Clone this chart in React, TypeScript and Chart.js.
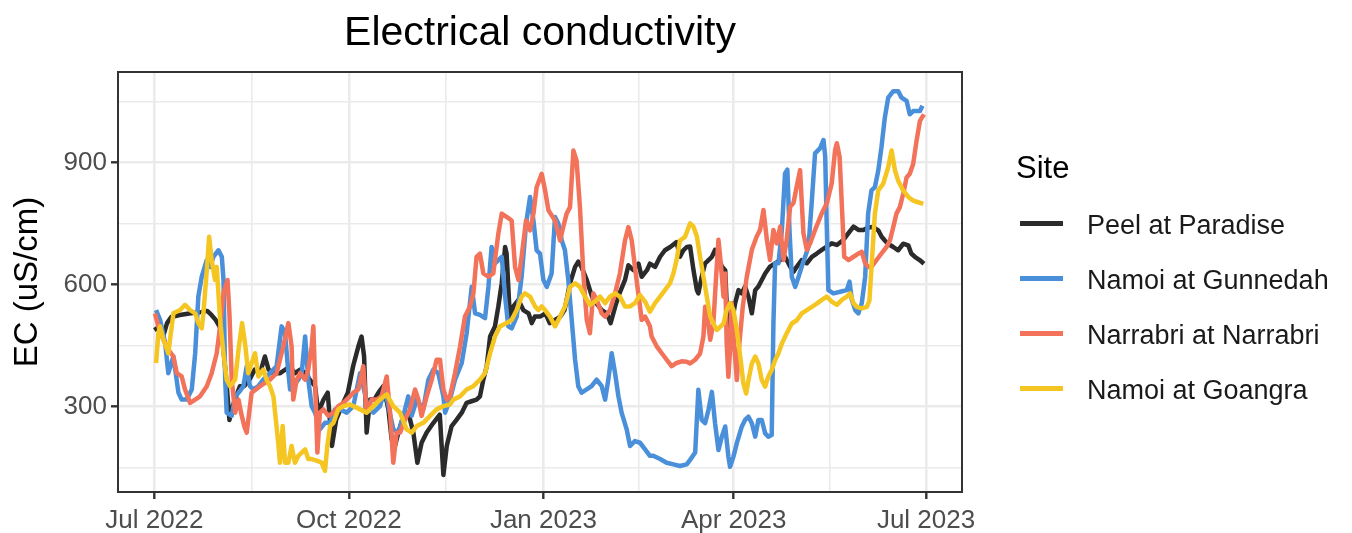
import React, { useEffect, useRef } from "react";
import { Chart, registerables } from "chart.js";

Chart.register(...registerables);

const FONT = "'Liberation Sans', Arial, Helvetica, sans-serif";

// Daily EC readings, as [days since 1 Jul 2022, EC in uS/cm]
const peelAtParadise: [number, number][] = [
  [0, 488], [2, 495], [4, 470], [6, 505], [8, 520], [12, 525], [18, 530], [22, 532], [25, 535], [27, 525],
  [29, 513], [31, 495], [32.5, 450], [34, 366], [35.5, 267], [37, 300], [39, 330], [40.5, 350], [42.5, 350], [45, 366],
  [47.5, 391], [50, 382], [52.3, 423], [54, 391], [56, 382], [59.5, 382], [62, 391], [64, 399], [66.5, 382], [69, 391],
  [71.5, 382], [73.5, 366], [76, 350], [77.5, 285], [80, 317], [82, 334], [84, 203], [86, 268], [88, 293], [90, 317],
  [91.5, 334], [94, 399], [96.5, 448], [98, 472], [99.2, 423], [100.4, 236], [102, 317], [104, 317], [106, 334], [108.3, 350],
  [110.7, 293], [112.2, 220], [113.8, 203], [115.4, 236], [117.8, 277], [120.1, 285], [122.5, 236], [124.4, 162], [126.4, 211], [128.8, 236],
  [132, 260], [135, 280], [136.7, 132], [138.3, 203], [140.6, 252], [143, 268], [145.4, 285], [147.7, 309], [150, 313], [152.4, 317],
  [154, 325], [155.6, 366], [157.2, 399], [158.8, 472], [161.1, 497], [162.7, 546], [164.3, 603], [165.9, 692], [166.6, 676], [168.2, 513],
  [169.8, 546], [172.2, 562], [174.5, 537], [177, 529], [178.5, 505], [180, 521], [182.4, 521], [185, 529], [187, 505], [189.5, 513],
  [192, 521], [194, 537], [196.6, 603], [199, 643], [200.5, 656], [202, 643], [204.5, 611], [207, 570], [209, 554], [211.6, 537],
  [214, 529], [215.8, 505], [218, 546], [220, 578], [222.6, 611], [224.2, 647], [226.6, 635], [229, 651], [230.5, 619], [233, 635],
  [234.4, 651], [236.8, 643], [239.2, 668], [241.5, 684], [244, 692], [247, 704], [248.6, 668], [250.2, 684], [251.8, 692], [253.4, 693],
  [255, 635], [256.6, 586], [257.3, 578], [258.9, 619], [260.5, 652], [262.1, 660], [263.7, 668], [265.2, 685], [266.8, 668], [268.4, 644],
  [270, 635], [271.1, 504], [272, 439], [273.1, 504], [274.7, 554], [276.3, 586], [277.8, 578], [279.4, 595], [281, 570], [282.6, 529],
  [284.2, 586], [285.7, 595], [287.3, 611], [288.9, 627], [291.2, 644], [293.6, 652], [296, 660], [298.3, 668], [300.7, 644], [302.3, 631],
  [303.9, 644], [306.2, 660], [308.6, 652], [311, 668], [313.3, 676], [315.7, 685], [318, 693], [320.4, 701], [322.8, 697], [326, 710],
  [328.3, 726], [330.7, 742], [333, 734], [335.4, 734], [337.6, 740], [340, 741], [342.4, 733], [344, 717], [345.5, 708], [347, 700],
  [349.5, 692], [351.8, 684], [354.2, 700], [356.6, 696], [358, 676], [359.7, 668], [362, 660], [364, 651],
];

const namoiAtGunnedah: [number, number][] = [
  [0.8, 537], [2.7, 513], [5.1, 456], [6.6, 382], [9, 423], [11.4, 334], [12.9, 317], [15.3, 317], [17.7, 342], [19.3, 431],
  [20.8, 570], [22.4, 619], [24.8, 660], [26.4, 643], [27.9, 668], [30.3, 684], [31.9, 668], [32.7, 611], [33.5, 366], [34.2, 285],
  [36.6, 277], [38.2, 325], [40.5, 338], [42.1, 350], [43.7, 399], [45.2, 350], [46.8, 342], [49.2, 350], [51.5, 366], [54.7, 382],
  [57.8, 399], [60.2, 497], [61.8, 480], [63.4, 382], [64.2, 342], [65.7, 350], [68.1, 366], [69.7, 382], [71.3, 472], [72.8, 366],
  [74.4, 301], [76, 285], [78.3, 244], [80.7, 260], [83.1, 260], [85.4, 293], [87.8, 293], [91, 285], [94.1, 301], [97.3, 382],
  [98.8, 350], [101.2, 293], [103.6, 285], [106.7, 301], [109.1, 342], [110.7, 301], [113, 244], [115.4, 236], [117.8, 277], [120.1, 325],
  [121.7, 277], [124.1, 317], [127.2, 293], [129.6, 366], [132, 391], [134.3, 382], [136.7, 325], [137.5, 285], [139.8, 317], [142.2, 366],
  [145.4, 407], [147.7, 480], [150.1, 594], [151.7, 529], [154, 525], [156.4, 517], [158, 594], [159.5, 692], [161.1, 652], [162.7, 660],
  [164.3, 668], [165.9, 570], [167.4, 497], [169, 492], [171.4, 521], [173.7, 619], [175.8, 749], [177.7, 815], [179.3, 757], [180.8, 684],
  [182.4, 676], [184, 611], [185.6, 594], [187.9, 627], [189.5, 766], [191.1, 749], [192.7, 708], [194.2, 684], [195.8, 611], [197.4, 513],
  [199, 415], [200.5, 350], [202.1, 334], [204.5, 342], [206.8, 350], [209.2, 366], [211.6, 350], [213.2, 317], [214.7, 366], [216.3, 431],
  [217.9, 382], [219.5, 325], [221, 285], [223.4, 244], [225, 203], [227.3, 215], [229.7, 211], [232.1, 195], [234.4, 179], [236, 179],
  [239.2, 171], [242.3, 162], [245.5, 158], [248.6, 154], [251.8, 158], [253.4, 169], [255.8, 187], [257.3, 341], [258.9, 267], [260.5, 259],
  [262.1, 292], [263.7, 336], [265.2, 259], [266.8, 193], [268.4, 226], [270, 251], [271.5, 177], [272.3, 152], [273.9, 177], [275.5, 210],
  [277.8, 250], [279.4, 267], [281, 275], [282.6, 259], [284.2, 226], [285.7, 267], [287.3, 267], [288.9, 234], [290.4, 226], [292, 230],
  [292.8, 504], [293.6, 652], [295.2, 652], [296.8, 734], [298.3, 873], [299.4, 882], [300.4, 734], [301.5, 619], [303.1, 594], [304.7, 619],
  [306.2, 644], [307.8, 668], [309.4, 693], [311, 808], [312.5, 922], [314.9, 935], [316.5, 955], [317.3, 914], [318, 750], [318.8, 586],
  [321.2, 578], [324.4, 582], [327.5, 586], [328.8, 607], [329.9, 562], [331.5, 537], [333, 529], [334.6, 554], [336.2, 619], [337.6, 774],
  [339.2, 831], [340.8, 839], [342.4, 880], [343.9, 937], [345.5, 1010], [347.1, 1059], [349.5, 1075], [351.8, 1075], [353.4, 1059], [355.8, 1051],
  [357.3, 1018], [358.9, 1026], [360.5, 1026], [362.1, 1026], [363.3, 1039],
];

const narrabriAtNarrabri: [number, number][] = [
  [0.3, 529], [1.9, 497], [4.3, 464], [6.6, 440], [9, 423], [10.6, 382], [12.9, 374], [14.5, 342], [16.9, 309], [19.3, 317],
  [21.6, 325], [24.8, 350], [27.1, 382], [29.5, 431], [31.1, 497], [32.7, 578], [34.6, 611], [35.5, 529], [36.6, 366], [38.2, 285],
  [39.8, 317], [41, 285], [42.5, 252], [43.7, 236], [46, 334], [50, 350], [54.7, 366], [57.8, 382], [61, 448], [63.4, 505],
  [64.9, 448], [65.7, 317], [67.3, 366], [68.9, 382], [71.3, 366], [72.8, 391], [74.4, 448], [75.2, 497], [76, 366], [77.1, 187],
  [78.3, 285], [79.9, 293], [82.3, 277], [84.7, 285], [87, 301], [89.4, 309], [92.5, 325], [94.1, 334], [96.5, 342], [98.8, 399],
  [100.4, 285], [102.8, 317], [105.1, 317], [107.5, 325], [109.9, 374], [111.5, 285], [113, 162], [114.6, 236], [116.2, 236], [118.6, 268],
  [120.9, 293], [123.3, 342], [124.9, 317], [126.4, 277], [128.8, 325], [131.2, 366], [133.5, 415], [135.1, 415], [136.7, 342], [138.3, 317],
  [139.8, 325], [142.2, 382], [144.6, 448], [146.9, 521], [149.3, 546], [150.9, 578], [152.4, 668], [154, 676], [155.6, 627], [158, 619],
  [160.3, 627], [162.7, 725], [164.3, 774], [166.6, 766], [169, 757], [170.6, 643], [172.2, 611], [173.7, 668], [175.8, 757], [177.7, 733],
  [179.3, 774], [180.8, 839], [183.2, 872], [184.8, 831], [186.4, 782], [189.5, 757], [191.9, 708], [193.4, 741], [195, 774], [196.6, 790],
  [198.2, 929], [199.7, 904], [201.3, 790], [202.9, 627], [204.5, 513], [206, 480], [207.6, 578], [209.2, 562], [211.6, 529], [213.2, 521],
  [215.5, 537], [217.9, 578], [220.2, 627], [222.6, 708], [224.2, 741], [225.8, 708], [227.3, 643], [228.9, 578], [230.5, 513], [232.1, 521],
  [234.4, 497], [235.2, 472], [237.6, 448], [240, 431], [242.3, 415], [244.7, 399], [247, 407], [249.4, 411], [251.8, 410], [253.4, 406],
  [255.8, 415], [258.1, 430], [259.7, 472], [260.5, 545], [261.6, 521], [262.9, 464], [264.4, 505], [265.7, 619], [266.8, 710], [267.9, 652],
  [269.2, 570], [270, 627], [270.7, 455], [271.5, 373], [272.3, 439], [273.1, 554], [274.2, 455], [275.5, 365], [276.7, 455], [278.3, 545],
  [280.2, 619], [282.6, 685], [284.9, 718], [286.5, 734], [288.1, 783], [289.7, 710], [291.2, 660], [292.8, 734], [294.4, 701], [296, 742],
  [297.6, 660], [299.1, 710], [300.7, 791], [302.3, 800], [303.8, 840], [305.4, 881], [307, 726], [308.6, 685], [310.2, 701], [312.5, 734],
  [315.7, 775], [318.1, 800], [320.4, 849], [322, 931], [322.8, 947], [324.1, 914], [325.2, 791], [326.3, 668], [328.3, 660], [330.7, 668],
  [333, 676], [334.6, 680], [336.2, 652], [337.8, 643], [339.2, 643], [341.6, 660], [343.9, 676], [346.3, 692], [347.9, 708], [349.5, 741],
  [351, 774], [352.6, 790], [354.2, 823], [355.8, 863], [357.3, 872], [358.9, 896], [360.5, 953], [362.1, 1002], [364, 1018],
];

const namoiAtGoangra: [number, number][] = [
  [0.8, 407], [1.9, 480], [2.7, 497], [4.3, 464], [6.6, 431], [9, 529], [12.2, 537], [14.5, 550], [16.9, 537], [19.3, 529],
  [20.8, 505], [22.4, 492], [23.2, 529], [24.8, 635], [25.9, 717], [27.1, 660], [28.7, 611], [29.5, 643], [31.1, 513], [32.7, 431],
  [34.2, 366], [35.8, 350], [38.2, 366], [40, 448], [41.5, 505], [43, 450], [44.4, 382], [47.6, 431], [49.2, 374], [51.5, 391],
  [53.1, 366], [54.7, 350], [56.3, 325], [57.1, 285], [58.6, 211], [59.4, 162], [60.7, 252], [61.8, 162], [63.4, 162], [64.9, 203],
  [66.5, 162], [68.1, 179], [69.7, 187], [71.3, 195], [72.8, 171], [74.4, 171], [76.8, 167], [79.1, 162], [80.7, 142], [81.8, 203],
  [83.1, 252], [84.7, 260], [87, 293], [89.4, 301], [92.5, 305], [94.1, 301], [97.3, 293], [100.4, 285], [103.6, 301], [106.7, 317],
  [109.9, 330], [113, 301], [116.2, 285], [119.3, 244], [121.7, 236], [124.1, 252], [127.2, 260], [130.4, 277], [133.5, 293], [136.7, 301],
  [139.8, 305], [141.4, 317], [144.6, 325], [147.7, 342], [150.9, 350], [154, 366], [156.4, 382], [158.8, 431], [161.1, 472], [163.5, 497],
  [166.6, 505], [169, 513], [171.4, 537], [173.7, 570], [175.3, 578], [177.7, 570], [180.1, 546], [181.6, 537], [183.2, 546], [184.8, 537],
  [187.1, 521], [189.5, 497], [191.9, 521], [194.2, 546], [196.6, 594], [199, 603], [201.3, 594], [203.7, 570], [206, 550], [208.4, 558],
  [210.8, 570], [213.2, 554], [215.5, 570], [217.9, 578], [220.2, 570], [222.6, 546], [225, 546], [227.3, 554], [229.7, 574], [232.1, 558],
  [234.4, 533], [236.8, 554], [239.2, 570], [241.5, 586], [243.9, 603], [245.5, 627], [247, 660], [248.6, 708], [251, 717], [253.4, 750],
  [255, 742], [256.6, 718], [258.1, 668], [259.7, 619], [261.3, 570], [262.9, 521], [264.4, 504], [266, 488], [267.6, 496], [269.2, 504],
  [270.7, 537], [272.3, 554], [273.9, 537], [275.5, 488], [277.1, 423], [278.6, 357], [279.9, 332], [281, 365], [282.6, 406], [284.2, 423],
  [285.7, 406], [287.3, 365], [288.9, 349], [290.4, 374], [292, 390], [293.6, 414], [295.2, 431], [296.8, 455], [299.1, 480], [301.5, 504],
  [303.9, 512], [306.2, 529], [308.6, 537], [311, 545], [313.3, 553], [315.7, 562], [318, 570], [320.4, 558], [322.8, 550], [325.2, 562],
  [327.5, 570], [329.1, 578], [330.7, 554], [332.2, 545], [334.6, 541], [337, 545], [338.2, 560], [339.2, 643], [340.8, 774], [342.4, 831],
  [344.7, 847], [347.1, 888], [348.7, 929], [350.3, 880], [351.8, 855], [354.2, 831], [356.6, 815], [358.9, 806], [361.3, 802], [363.7, 798],
];

const siteNames = ["Peel at Paradise", "Namoi at Gunnedah", "Narrabri at Narrabri", "Namoi at Goangra"];
const siteSeries = [peelAtParadise, namoiAtGunnedah, narrabriAtNarrabri, namoiAtGoangra];
const siteColors = ["#2B2B2B", "#4A8FD9", "#F2725A", "#F5C521"];

// Axis breaks (x in days since 1 Jul 2022)
const xMajorDays = [0, 92, 184, 274, 365];
const xMajorLabels = ["Jul 2022", "Oct 2022", "Jan 2023", "Apr 2023", "Jul 2023"];
const xMinorDays = [46, 138, 229, 319.5];
const yMajor = [300, 600, 900];
const yMinor = [150, 450, 750, 1050];

const X_MIN = -17.2;
const X_MAX = 382;
const Y_MIN = 90;
const Y_MAX = 1122;

const GRID = "#EBEBEB";
const INK = "#333333";
const TICK_TEXT = "#4D4D4D";

const panelBorder = {
  id: "panelBorder",
  afterDatasetsDraw(chart: any) {
    const { ctx, chartArea } = chart;
    const { left, top, right, bottom } = chartArea;
    ctx.save();
    ctx.strokeStyle = INK;
    ctx.lineWidth = 2;
    ctx.strokeRect(left, top, right - left, bottom - top);
    ctx.restore();
  },
};

function buildConfig(): any {
  const datasets = siteSeries.map((pts, i) => ({
    label: siteNames[i],
    data: pts.map(([d, v]) => ({ x: d, y: v })),
    borderColor: siteColors[i],
    backgroundColor: siteColors[i],
    borderWidth: 4.5,
    pointRadius: 0,
    pointHoverRadius: 0,
    tension: 0,
    fill: false,
    borderJoinStyle: "round",
    borderCapStyle: "butt",
    order: siteSeries.length - 1 - i,
  }));

  const isXMajor = (v: number) => xMajorDays.includes(v);
  const isYMajor = (v: number) => yMajor.includes(v);

  return {
    type: "line",
    data: { datasets },
    plugins: [panelBorder],
    options: {
      animation: false,
      responsive: false,
      devicePixelRatio: 1,
      events: [],
      layout: { padding: { left: 0, right: 390, top: 72, bottom: 0 } },
      plugins: {
        legend: { display: false },
        title: { display: false },
        tooltip: { enabled: false },
      },
      scales: {
        x: {
          type: "linear",
          min: X_MIN,
          max: X_MAX,
          afterBuildTicks: (s: any) => {
            s.ticks = [...xMajorDays, ...xMinorDays].sort((a, b) => a - b).map((v) => ({ value: v }));
          },
          afterFit: (s: any) => {
            s.height = 41;
          },
          ticks: {
            autoSkip: false,
            maxRotation: 0,
            minRotation: 0,
            padding: 6,
            color: TICK_TEXT,
            font: { family: FONT, size: 26 },
            callback: (v: number) => {
              const i = xMajorDays.indexOf(v);
              return i >= 0 ? xMajorLabels[i] : "";
            },
          },
          grid: {
            color: GRID,
            lineWidth: (c: any) => (c.tick && isXMajor(c.tick.value) ? 2.6 : 1.6),
            tickLength: 7,
            tickWidth: 2.4,
            tickColor: (c: any) => (c.tick && isXMajor(c.tick.value) ? INK : "rgba(0,0,0,0)"),
          },
          border: { display: false },
        },
        y: {
          type: "linear",
          min: Y_MIN,
          max: Y_MAX,
          afterBuildTicks: (s: any) => {
            s.ticks = [...yMajor, ...yMinor].sort((a, b) => a - b).map((v) => ({ value: v }));
          },
          afterFit: (s: any) => {
            s.width = 118;
          },
          ticks: {
            padding: 4,
            color: TICK_TEXT,
            font: { family: FONT, size: 26 },
            callback: (v: number) => (isYMajor(v) ? String(v) : ""),
          },
          grid: {
            color: GRID,
            lineWidth: (c: any) => (c.tick && isYMajor(c.tick.value) ? 2.6 : 1.6),
            tickLength: 7,
            tickWidth: 2.4,
            tickColor: (c: any) => (c.tick && isYMajor(c.tick.value) ? INK : "rgba(0,0,0,0)"),
          },
          border: { display: false },
          title: {
            display: true,
            text: "EC (uS/cm)",
            color: "#000000",
            font: { family: FONT, size: 33 },
            padding: { top: 8, bottom: 0 },
          },
        },
      },
    },
  };
}

export default function App() {
  const canvasRef = useRef<HTMLCanvasElement>(null);

  useEffect(() => {
    if (!canvasRef.current) return;
    Chart.defaults.font.family = FONT;
    const chart = new Chart(canvasRef.current, buildConfig());
    return () => chart.destroy();
  }, []);

  return (
    <div
      style={{
        position: "fixed",
        left: 0,
        top: 0,
        width: 1352,
        height: 533,
        background: "#FFFFFF",
        fontFamily: FONT,
        overflow: "hidden",
      }}
    >
      <canvas
        ref={canvasRef}
        width={1352}
        height={533}
        style={{ position: "absolute", left: 0, top: 0, display: "block" }}
      />
      <div
        style={{
          position: "absolute",
          left: 118,
          width: 844,
          top: 11,
          textAlign: "center",
          fontSize: 41,
          lineHeight: "41px",
          color: "#000000",
          whiteSpace: "nowrap",
        }}
      >
        Electrical conductivity
      </div>
      <div
        style={{
          position: "absolute",
          left: 1016,
          top: 152,
          fontSize: 31,
          lineHeight: "31px",
          color: "#000000",
        }}
      >
        Site
      </div>
      {siteNames.map((name, i) => (
        <React.Fragment key={name}>
          <div
            style={{
              position: "absolute",
              left: 1020,
              top: 223 + 55 * i - 2.5,
              width: 43,
              height: 5,
              background: siteColors[i],
            }}
          />
          <div
            style={{
              position: "absolute",
              left: 1087,
              top: 225 + 55 * i - 13.5,
              fontSize: 27,
              lineHeight: "27px",
              color: "#1A1A1A",
              whiteSpace: "nowrap",
            }}
          >
            {name}
          </div>
        </React.Fragment>
      ))}
    </div>
  );
}
